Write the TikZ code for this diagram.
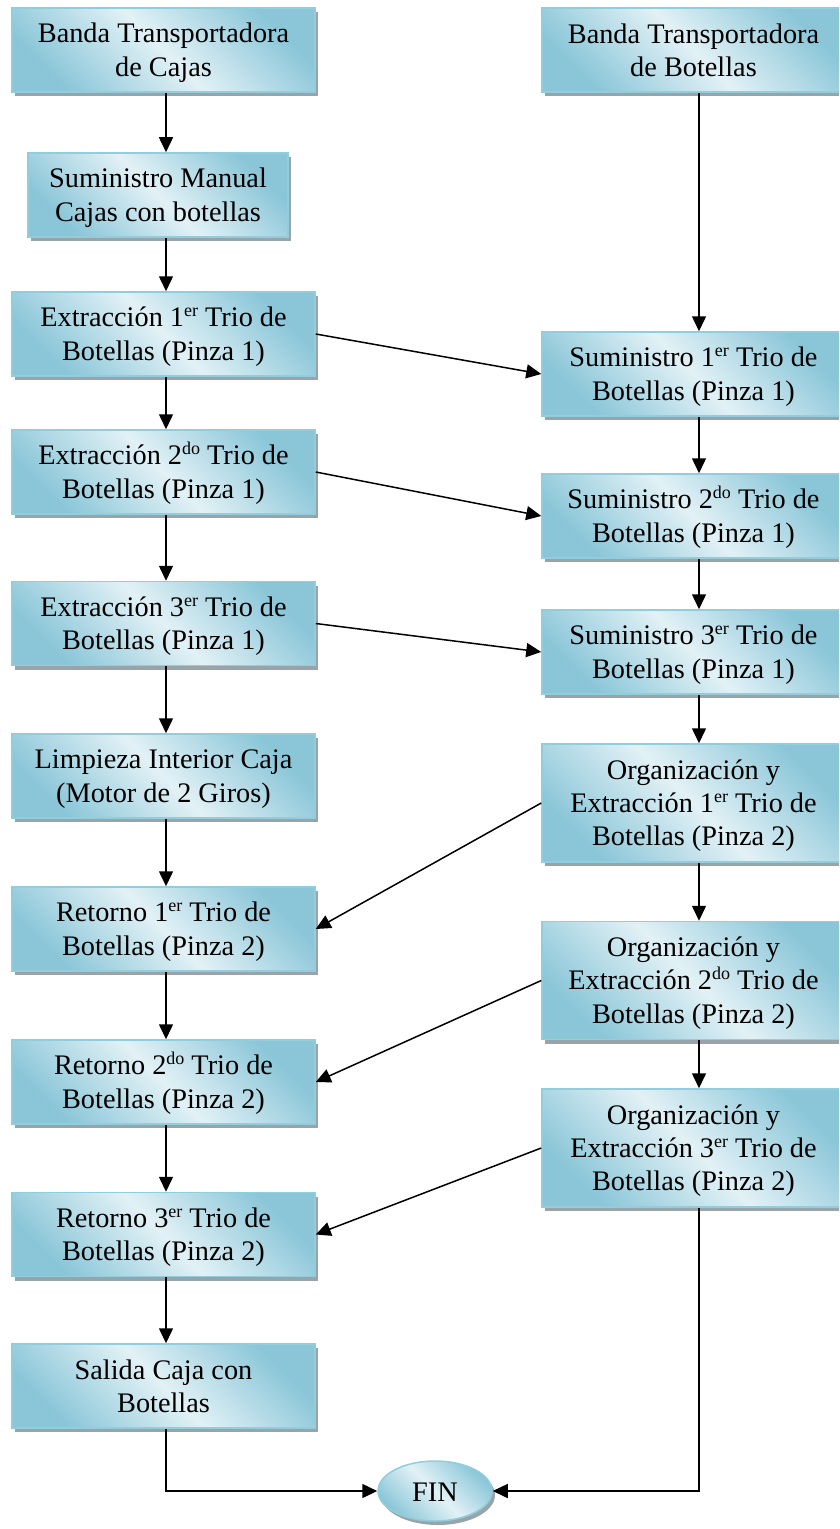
\documentclass[tikz,border=0pt]{standalone}
\usepackage{fontspec}
\setmainfont{Liberation Serif}
\usetikzlibrary{arrows.meta,shadows,shapes.geometric}
\definecolor{dkb}{HTML}{8AC6D8}
\definecolor{ltb}{HTML}{E2F1F6}
\definecolor{bdr}{HTML}{92CDDD}
\definecolor{shd}{HTML}{98A4A9}
\newcommand\sups[1]{\raisebox{0.36em}{\fontsize{18bp}{18bp}\selectfont #1}}
\newcommand\st{\rule[-5bp]{0pt}{30bp}}
\begin{document}
\begin{tikzpicture}[x=1bp,y=-1bp,
  box/.style={rectangle, draw=bdr, line width=1.5bp, top color=dkb, bottom color=dkb, middle color=ltb, shading angle=-45,
    general shadow={shadow xshift=3bp, shadow yshift=-4bp, fill=shd},
    minimum width=303bp, minimum height=84bp, align=center, inner sep=0pt,
    font=\fontsize{28.3bp}{33.3bp}\selectfont},
  tall/.style={box, minimum height=118bp},
  arr/.style={-{Triangle[length=15bp,width=14bp]}, line width=1.5bp, black},
  ]
\useasboundingbox (0,0) rectangle (839,1529);
\clip (0,0) rectangle (839,1529);
% left column
\node[box] (L1) at (163.5,50) {\st Banda Transportadora\\\st de Cajas};
\node[box, minimum width=260bp] (L2) at (158,195) {\st Suministro Manual\\\st Cajas con botellas};
\node[box] (L3) at (163.5,334) {\st Extracción 1\sups{er} Trio de\\\st Botellas (Pinza 1)};
\node[box] (L4) at (163.5,472) {\st Extracción 2\sups{do} Trio de\\\st Botellas (Pinza 1)};
\node[box] (L5) at (163.5,623.5) {\st Extracción 3\sups{er} Trio de\\\st Botellas (Pinza 1)};
\node[box] (L6) at (163.5,776) {\st Limpieza Interior Caja\\\st (Motor de 2 Giros)};
\node[box] (L7) at (163.5,929) {\st Retorno 1\sups{er} Trio de\\\st Botellas (Pinza 2)};
\node[box] (L8) at (163.5,1082) {\st Retorno 2\sups{do} Trio de\\\st Botellas (Pinza 2)};
\node[box] (L9) at (163.5,1234.5) {\st Retorno 3\sups{er} Trio de\\\st Botellas (Pinza 2)};
\node[box] (L10) at (163.5,1386) {\st Salida Caja con\\\st Botellas};
% right column
\node[box] (R1) at (693.5,50) {\st Banda Transportadora\\\st de Botellas};
\node[box] (R2) at (693.5,374) {\st Suministro 1\sups{er} Trio de\\\st Botellas (Pinza 1)};
\node[box] (R3) at (693.5,516) {\st Suministro 2\sups{do} Trio de\\\st Botellas (Pinza 1)};
\node[box] (R4) at (693.5,652) {\st Suministro 3\sups{er} Trio de\\\st Botellas (Pinza 1)};
\node[tall] (R5) at (693.5,803) {\st Organización y\\\st Extracción 1\sups{er} Trio de\\\st Botellas (Pinza 2)};
\node[tall] (R6) at (693.5,980.5) {\st Organización y\\\st Extracción 2\sups{do} Trio de\\\st Botellas (Pinza 2)};
\node[tall] (R7) at (693.5,1148) {\st Organización y\\\st Extracción 3\sups{er} Trio de\\\st Botellas (Pinza 2)};
% end
\node[box, ellipse, minimum width=114bp, minimum height=60bp] (FIN) at (435,1491) {\st FIN};
% connectors
\coordinate (cl) at ([xshift=2.5bp]L1.south);
\coordinate (cr) at ([xshift=5.5bp]R1.south);
\draw[arr] (cl) -- (cl |- L2.north);
\draw[arr] (cl |- L2.south) -- (cl |- L3.north);
\draw[arr] (cl |- L3.south) -- (cl |- L4.north);
\draw[arr] (cl |- L4.south) -- (cl |- L5.north);
\draw[arr] (cl |- L5.south) -- (cl |- L6.north);
\draw[arr] (cl |- L6.south) -- (cl |- L7.north);
\draw[arr] (cl |- L7.south) -- (cl |- L8.north);
\draw[arr] (cl |- L8.south) -- (cl |- L9.north);
\draw[arr] (cl |- L9.south) -- (cl |- L10.north);
\draw[arr] (cl |- L10.south) |- (FIN.west);
\draw[arr] (cr) -- (cr |- R2.north);
\draw[arr] (cr |- R2.south) -- (cr |- R3.north);
\draw[arr] (cr |- R3.south) -- (cr |- R4.north);
\draw[arr] (cr |- R4.south) -- (cr |- R5.north);
\draw[arr] (cr |- R5.south) -- (cr |- R6.north);
\draw[arr] (cr |- R6.south) -- (cr |- R7.north);
\draw[arr] (cr |- R7.south) |- (FIN.east);
\draw[arr] (L3.east) -- (R2.west);
\draw[arr] (L4.east) -- (R3.west);
\draw[arr] (L5.east) -- (R4.west);
\draw[arr] (R5.west) -- (L7.east);
\draw[arr] (R6.west) -- (L8.east);
\draw[arr] (R7.west) -- (L9.east);
\end{tikzpicture}
\end{document}
